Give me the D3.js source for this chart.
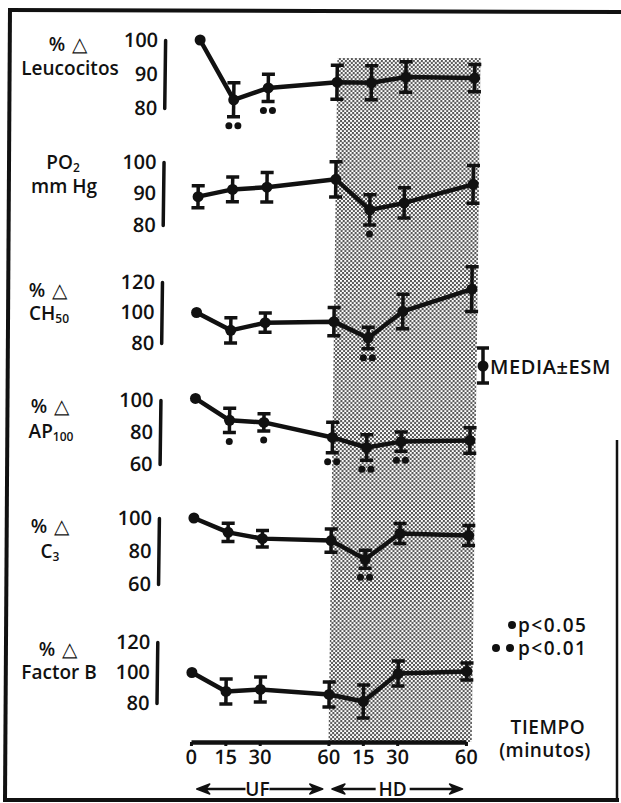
<!DOCTYPE html>
<html><head><meta charset="utf-8">
<script src="https://cdn.jsdelivr.net/npm/d3@7"></script>
<style>
html,body{margin:0;padding:0;background:#fff;}
svg{display:block;}
text{font-family:"Open Sans",Lato,sans-serif;font-weight:600;fill:#111;}
</style></head><body>
<svg id="chart" width="621" height="803"></svg>
<script>
// Sampling times (minutes): UF 0-60, then HD 15, 30, 60 after the UF phase
const times = [0, 15, 30, 60, 75, 90, 120];
const timeLabels = ["0", "15", "30", "60", "15", "30", "60"];

// Mean ± SEM per parameter; sig = number of significance dots (1: p<0.05, 2: p<0.01)
const leucocitosMean = [100, 82.4, 85.9, 87.6, 87.4, 89.1, 88.8];
const leucocitosEsm  = [0, 5.0, 4.0, 5.0, 5.0, 4.5, 4.0];
const leucocitosSig  = [0, 2, 2, 0, 0, 0, 0];

const po2Mean = [89.0, 91.3, 92.0, 94.5, 84.8, 87.0, 92.9];
const po2Esm  = [3.5, 3.9, 4.7, 5.6, 4.8, 4.8, 6.0];
const po2Sig  = [0, 0, 0, 0, 1, 0, 0];

const ch50Mean = [100, 88.3, 93.3, 94.0, 83.3, 100.7, 115.3];
const ch50Esm  = [0, 8.3, 6.3, 9.3, 7.0, 11.3, 14.7];
const ch50Sig  = [0, 0, 0, 0, 2, 0, 0];

const ap100Mean = [101, 87.3, 86.0, 76.6, 70.3, 74.0, 74.7];
const ap100Esm  = [0, 7.6, 5.4, 9.5, 8.0, 6.0, 8.0];
const ap100Sig  = [0, 1, 1, 2, 2, 2, 0];

const c3Mean = [100, 91.3, 87.5, 86.3, 75.0, 90.6, 89.4];
const c3Esm  = [0, 5.5, 5.0, 7.0, 5.5, 6.0, 6.0];
const c3Sig  = [0, 0, 0, 0, 2, 0, 0];

const factorBMean = [100, 87.6, 88.9, 85.6, 81.0, 99.3, 100.7];
const factorBEsm  = [0, 8.2, 8.2, 8.2, 10.8, 8.2, 5.6];
const factorBSig  = [0, 0, 0, 0, 0, 0, 0];

// Y-axis tick values per panel
const leucocitosTicks = [80, 90, 100];
const po2Ticks = [80, 90, 100];
const ch50Ticks = [80, 100, 120];
const ap100Ticks = [60, 80, 100];
const c3Ticks = [60, 80, 100];
const factorBTicks = [80, 100, 120];

// ---------------------------------------------------------------
const svg = d3.select("#chart");
const FONT = '"Open Sans",Lato,sans-serif';
const FS = 19;

const x = d3.scaleLinear().domain([0, 120]).range([191, 466]);
const axisY = 742;
const slant = 0.013;           // drawing leans slightly to the right toward the top
const yAxisX = 156;

// frame
const frame = svg.append("g").attr("stroke", "#111").attr("stroke-width", 4).attr("fill", "none");
frame.append("line").attr("x1", 8).attr("y1", 10).attr("x2", 621).attr("y2", 12);
frame.append("line").attr("x1", 10).attr("y1", 8).attr("x2", 5).attr("y2", 801);
frame.append("line").attr("x1", 3).attr("y1", 800).attr("x2", 619).attr("y2", 800);
frame.append("line").attr("x1", 617).attr("y1", 440).attr("x2", 617).attr("y2", 801).attr("stroke-width", 2.5);

// halftone pattern for the HD period
const defs = svg.append("defs");
const pat = defs.append("pattern").attr("id", "halftone").attr("patternUnits", "userSpaceOnUse")
  .attr("width", 4).attr("height", 4);
pat.append("rect").attr("width", 4).attr("height", 4).attr("fill", "#fff");
pat.append("circle").attr("cx", 1).attr("cy", 1).attr("r", 0.95).attr("fill", "#111");
pat.append("circle").attr("cx", 3).attr("cy", 3).attr("r", 0.95).attr("fill", "#111");

const skewDeg = -Math.atan(slant) * 180 / Math.PI;
const plot = svg.append("g")
  .attr("transform", `translate(${slant * axisY},0) skewX(${skewDeg})`);

plot.append("rect")
  .attr("x", x(60)).attr("y", 58)
  .attr("width", x(122.5) - x(60)).attr("height", axisY - 58)
  .attr("fill", "url(#halftone)");

const panels = [
  { mean: leucocitosMean, esm: leucocitosEsm, sig: leucocitosSig, ticks: leucocitosTicks, domain: [80, 100], range: [108, 40] },
  { mean: po2Mean, esm: po2Esm, sig: po2Sig, ticks: po2Ticks, domain: [80, 100], range: [225, 162] },
  { mean: ch50Mean, esm: ch50Esm, sig: ch50Sig, ticks: ch50Ticks, domain: [80, 120], range: [343, 282] },
  { mean: ap100Mean, esm: ap100Esm, sig: ap100Sig, ticks: ap100Ticks, domain: [60, 100], range: [464, 400] },
  { mean: c3Mean, esm: c3Esm, sig: c3Sig, ticks: c3Ticks, domain: [60, 100], range: [584, 518] },
  { mean: factorBMean, esm: factorBEsm, sig: factorBSig, ticks: factorBTicks, domain: [80, 120], range: [703, 642] }
];

panels.forEach(p => {
  const y = d3.scaleLinear().domain(p.domain).range(p.range);
  const g = plot.append("g");

  // y axis: thick bar with numbers
  const ax = g.append("g").attr("transform", `translate(${yAxisX},0)`)
    .call(d3.axisLeft(y).tickValues(p.ticks).tickSize(0).tickSizeOuter(0).tickPadding(7));
  ax.select(".domain").attr("stroke", "#111").attr("stroke-width", 3.5).attr("stroke-linecap", "round");
  ax.selectAll("text").attr("font-size", FS + 1).attr("font-family", FONT).attr("font-weight", 600).attr("fill", "#111");

  const pts = times.map((t, i) => ({ t, v: p.mean[i], e: p.esm[i], s: p.sig[i] }));

  // connecting line
  g.append("path").datum(pts)
    .attr("d", d3.line().x(d => x(d.t)).y(d => y(d.v)))
    .attr("fill", "none").attr("stroke", "#111").attr("stroke-width", 4.5)
    .attr("stroke-linejoin", "round");

  // error bars
  const eb = g.append("g").attr("stroke", "#111").attr("fill", "none");
  pts.filter(d => d.e > 0).forEach(d => {
    const cx = x(d.t), y1 = y(d.v + d.e), y2 = y(d.v - d.e);
    eb.append("line").attr("x1", cx).attr("x2", cx).attr("y1", y1).attr("y2", y2).attr("stroke-width", 3.5);
    eb.append("line").attr("x1", cx - 6.5).attr("x2", cx + 6.5).attr("y1", y1).attr("y2", y1).attr("stroke-width", 3.5);
    eb.append("line").attr("x1", cx - 6.5).attr("x2", cx + 6.5).attr("y1", y2).attr("y2", y2).attr("stroke-width", 3.5);
  });

  // mean markers
  g.selectAll("circle.m").data(pts).join("circle").attr("class", "m")
    .attr("cx", d => x(d.t)).attr("cy", d => y(d.v)).attr("r", 5.5).attr("fill", "#111");

  // significance dots under the error bar
  pts.filter(d => d.s > 0).forEach(d => {
    const by = y(d.v - d.e) + 9;
    const offs = d.s === 1 ? [0] : [-4.5, 4.5];
    offs.forEach(o => g.append("circle").attr("cx", x(d.t) + o).attr("cy", by).attr("r", 3.5).attr("fill", "#111"));
  });
});

// time axis
const xa = plot.append("g").attr("transform", `translate(0,${axisY})`)
  .call(d3.axisBottom(x).tickValues(times).tickFormat((d, i) => timeLabels[i]).tickSize(4).tickSizeOuter(0).tickPadding(4));
xa.select(".domain").attr("stroke", "#111").attr("stroke-width", 4.5);
xa.selectAll(".tick line").attr("stroke", "#111").attr("stroke-width", 3);
xa.selectAll("text").attr("font-size", FS + 1).attr("font-family", FONT).attr("font-weight", 600).attr("fill", "#111");

// panel titles
function label(xc, yb, parts, anchor) {
  const t = svg.append("text").attr("x", xc).attr("y", yb).attr("text-anchor", anchor || "middle").attr("font-size", FS);
  parts.forEach(p => {
    const s = t.append("tspan").text(p.t);
    if (p.sub) s.attr("font-size", 12).attr("dy", 3);
    if (p.tri) s.attr("font-family", FONT).attr("font-weight", 400).attr("font-size", 20).attr("dx", 7);
  });
  return t;
}
const pctDelta = [{ t: "%" }, { t: "△", tri: true }];
label(68, 51, pctDelta);
label(70, 75, [{ t: "Leucocitos" }]);
label(63, 169, [{ t: "PO" }, { t: "2", sub: true }]);
label(64, 193, [{ t: "mm Hg" }]);
label(48, 297, pctDelta);
label(49, 320, [{ t: "CH" }, { t: "50", sub: true }]);
label(50, 413, pctDelta);
label(51, 438, [{ t: "AP" }, { t: "100", sub: true }]);
label(50, 533, pctDelta);
label(50, 558, [{ t: "C" }, { t: "3", sub: true }]);
label(58, 656, pctDelta);
label(59, 679, [{ t: "Factor B" }]);

// MEDIA ± ESM key
const key = svg.append("g");
key.append("line").attr("x1", 483).attr("x2", 483).attr("y1", 348).attr("y2", 383).attr("stroke", "#111").attr("stroke-width", 3.5);
key.append("line").attr("x1", 477).attr("x2", 489).attr("y1", 348).attr("y2", 348).attr("stroke", "#111").attr("stroke-width", 3.5);
key.append("line").attr("x1", 477).attr("x2", 489).attr("y1", 383).attr("y2", 383).attr("stroke", "#111").attr("stroke-width", 3.5);
key.append("circle").attr("cx", 483).attr("cy", 366).attr("r", 5.5).attr("fill", "#111");
key.append("text").attr("x", 490).attr("y", 374).attr("font-size", 20).attr("letter-spacing", 0.6).text("MEDIA±ESM");

// significance key
key.append("circle").attr("cx", 512).attr("cy", 625).attr("r", 4).attr("fill", "#111");
key.append("text").attr("x", 518).attr("y", 632).attr("font-size", FS).attr("letter-spacing", 1.5).text("p<0.05");
key.append("circle").attr("cx", 496).attr("cy", 648).attr("r", 4).attr("fill", "#111");
key.append("circle").attr("cx", 510).attr("cy", 648).attr("r", 4).attr("fill", "#111");
key.append("text").attr("x", 518).attr("y", 655).attr("font-size", FS).attr("letter-spacing", 1.5).text("p<0.01");

key.append("text").attr("x", 548).attr("y", 734).attr("text-anchor", "middle").attr("font-size", FS).attr("letter-spacing", 0.6).text("TIEMPO");
key.append("text").attr("x", 545).attr("y", 757).attr("text-anchor", "middle").attr("font-size", FS).attr("letter-spacing", 0.4).text("(minutos)");

// phase arrows under the time axis
const arrowY = 789;
function phase(t0, t1, tc, name, halfGap) {
  const x0 = x(t0), x1 = x(t1), xc = x(tc);
  const g = svg.append("g");
  g.append("line").attr("x1", x0 + 6).attr("x2", xc - halfGap).attr("y1", arrowY).attr("y2", arrowY).attr("stroke", "#111").attr("stroke-width", 2.5);
  g.append("line").attr("x1", xc + halfGap).attr("x2", x1 - 6).attr("y1", arrowY).attr("y2", arrowY).attr("stroke", "#111").attr("stroke-width", 2.5);
  g.append("path").attr("d", `M${x0},${arrowY} L${x0 + 13},${arrowY - 5} L${x0 + 9},${arrowY} L${x0 + 13},${arrowY + 5} Z`).attr("fill", "#111").attr("stroke", "#111").attr("stroke-width", 1.5).attr("stroke-linejoin", "round");
  g.append("path").attr("d", `M${x1},${arrowY} L${x1 - 13},${arrowY - 5} L${x1 - 9},${arrowY} L${x1 - 13},${arrowY + 5} Z`).attr("fill", "#111").attr("stroke", "#111").attr("stroke-width", 1.5).attr("stroke-linejoin", "round");
  g.append("text").attr("x", xc).attr("y", arrowY + 7).attr("text-anchor", "middle").attr("font-size", FS).text(name);
}
phase(2.5, 57.5, 29, "UF", 12);
phase(61.5, 118.5, 88, "HD", 17);
</script>
</body></html>
